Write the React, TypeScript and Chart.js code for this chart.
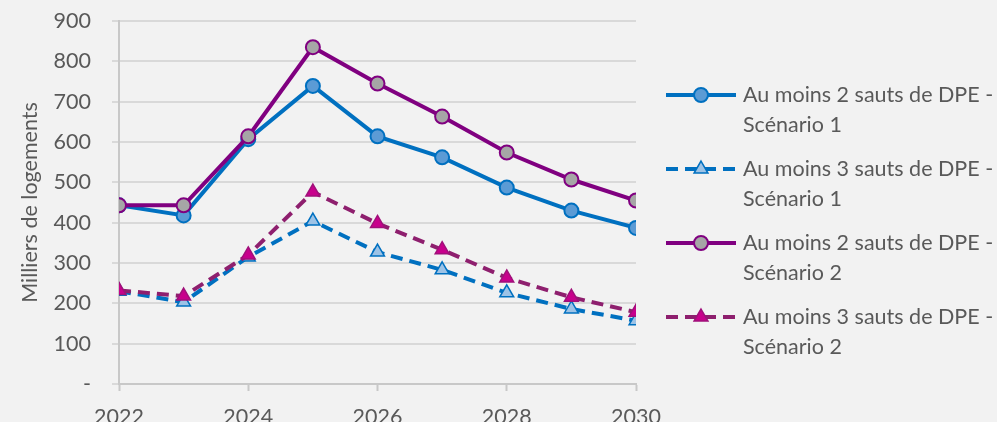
import React, { useEffect, useRef } from 'react';
import { Chart, registerables } from 'chart.js';

Chart.register(...registerables);

const years = [2022, 2023, 2024, 2025, 2026, 2027, 2028, 2029, 2030];
const deuxSautsSc1 = [443, 418, 607, 739, 614, 562, 487, 430, 387];
const troisSautsSc1 = [230, 203, 315, 404, 327, 283, 226, 186, 157];
const deuxSautsSc2 = [443, 443, 614, 835, 745, 663, 574, 507, 455];
const troisSautsSc2 = [232, 218, 320, 476, 398, 333, 263, 215, 178];
const seriesLabels = [
  ['Au moins 2 sauts de DPE -', 'Scénario 1'],
  ['Au moins 3 sauts de DPE -', 'Scénario 1'],
  ['Au moins 2 sauts de DPE -', 'Scénario 2'],
  ['Au moins 3 sauts de DPE -', 'Scénario 2'],
];
const yTitle = 'Milliers de logements';
const zeroLabel = '-';

const FONT = 'Lato';
const FS = 21.5;
const TEXT = '#595959';

function drawMarker(ctx, style, x, y, r, fill, stroke, bw) {
  ctx.save();
  ctx.setLineDash([]);
  ctx.beginPath();
  if (style === 'circle') {
    ctx.arc(x, y, r, 0, Math.PI * 2);
  } else {
    let rad = 0;
    ctx.moveTo(x + Math.sin(rad) * r, y - Math.cos(rad) * r);
    rad += (2 * Math.PI) / 3;
    ctx.lineTo(x + Math.sin(rad) * r, y - Math.cos(rad) * r);
    rad += (2 * Math.PI) / 3;
    ctx.lineTo(x + Math.sin(rad) * r, y - Math.cos(rad) * r);
    ctx.closePath();
  }
  ctx.fillStyle = fill;
  ctx.fill();
  ctx.lineWidth = bw;
  ctx.strokeStyle = stroke;
  ctx.stroke();
  ctx.restore();
}

const sideLegend = {
  id: 'sideLegend',
  afterDraw(chart) {
    const ctx = chart.ctx;
    const area = chart.chartArea;
    const x0 = area.right + 30;
    const lineLen = 70;
    chart.data.datasets.forEach((ds, i) => {
      const y = area.top + 74 + i * 74;
      ctx.save();
      ctx.strokeStyle = ds.borderColor;
      ctx.lineWidth = ds.borderWidth;
      ctx.setLineDash(ds.borderDash || []);
      ctx.beginPath();
      ctx.moveTo(x0, y);
      ctx.lineTo(x0 + lineLen, y);
      ctx.stroke();
      ctx.restore();
      drawMarker(ctx, ds.pointStyle, x0 + lineLen / 2, y, ds.pointRadius, ds.pointBackgroundColor, ds.pointBorderColor, ds.pointBorderWidth);
      ctx.save();
      ctx.fillStyle = TEXT;
      ctx.font = `${FS}px ${FONT}`;
      ctx.textAlign = 'left';
      ctx.textBaseline = 'middle';
      seriesLabels[i].forEach((t, j) => {
        ctx.fillText(t, x0 + lineLen + 7, y + j * 30);
      });
      ctx.restore();
    });
  },
};

export default function App() {
  const ref = useRef(null);
  useEffect(() => {
    document.body.style.margin = '0';
    document.body.style.background = '#f2f2f2';
    const toXY = (arr) => arr.map((v, i) => ({ x: years[i], y: v }));
    const chart = new Chart(ref.current, {
      type: 'line',
      data: {
        datasets: [
          {
            label: seriesLabels[0].join(' '),
            data: toXY(deuxSautsSc1),
            borderColor: '#0070C0',
            borderWidth: 4,
            pointStyle: 'circle',
            pointRadius: 7,
            pointBackgroundColor: '#5B9BD5',
            pointBorderColor: '#0070C0',
            pointBorderWidth: 2,
            order: 4,
          },
          {
            label: seriesLabels[1].join(' '),
            data: toXY(troisSautsSc1),
            borderColor: '#0070C0',
            borderWidth: 4,
            borderDash: [12, 7],
            pointStyle: 'triangle',
            pointRadius: 8,
            pointBackgroundColor: '#9DC3E6',
            pointBorderColor: '#0070C0',
            pointBorderWidth: 1.5,
            order: 3,
          },
          {
            label: seriesLabels[2].join(' '),
            data: toXY(deuxSautsSc2),
            borderColor: '#800080',
            borderWidth: 4,
            pointStyle: 'circle',
            pointRadius: 7,
            pointBackgroundColor: '#A6A6A6',
            pointBorderColor: '#800080',
            pointBorderWidth: 2,
            order: 2,
          },
          {
            label: seriesLabels[3].join(' '),
            data: toXY(troisSautsSc2),
            borderColor: '#8E1F6E',
            borderWidth: 4,
            borderDash: [12, 7],
            pointStyle: 'triangle',
            pointRadius: 8,
            pointBackgroundColor: '#C8008C',
            pointBorderColor: '#A0107A',
            pointBorderWidth: 1.5,
            order: 1,
          },
        ],
      },
      options: {
        animation: false,
        responsive: false,
        devicePixelRatio: 1,
        layout: { padding: { top: 21, right: 361, left: 0, bottom: 0 } },
        plugins: { legend: { display: false }, tooltip: { enabled: false } },
        elements: { line: { tension: 0 } },
        scales: {
          x: {
            type: 'linear',
            min: 2022,
            max: 2030,
            afterFit: (s) => { s.height = 38; s.paddingLeft = 0; s.paddingRight = 0; },
            ticks: {
              stepSize: 2,
              color: TEXT,
              font: { family: FONT, size: FS },
              padding: 13,
              maxRotation: 0,
              callback: (v) => String(v),
            },
            grid: { drawOnChartArea: false, drawTicks: true, tickLength: 7, tickColor: '#c8c8c8', tickWidth: 2 },
            border: { color: '#c8c8c8', width: 2 },
          },
          y: {
            min: 0,
            max: 900,
            afterFit: (s) => { s.width = 119; s.paddingTop = 0; s.paddingBottom = 0; },
            ticks: {
              stepSize: 100,
              color: TEXT,
              font: { family: FONT, size: FS },
              padding: 21,
              callback: (v) => (v === 0 ? zeroLabel : String(v)),
            },
            grid: { color: '#d9d9d9', lineWidth: 2, tickLength: 7, tickColor: '#d9d9d9' },
            border: { color: '#c8c8c8', width: 2 },
            title: {
              display: true,
              text: yTitle,
              color: TEXT,
              font: { family: FONT, size: FS },
              padding: { top: 17, bottom: 0 },
            },
          },
        },
      },
      plugins: [sideLegend],
    });
    return () => chart.destroy();
  }, []);
  return (
    <div style={{ width: 997, height: 422, background: '#f2f2f2' }}>
      <canvas ref={ref} width={997} height={422} style={{ display: 'block' }} />
    </div>
  );
}
